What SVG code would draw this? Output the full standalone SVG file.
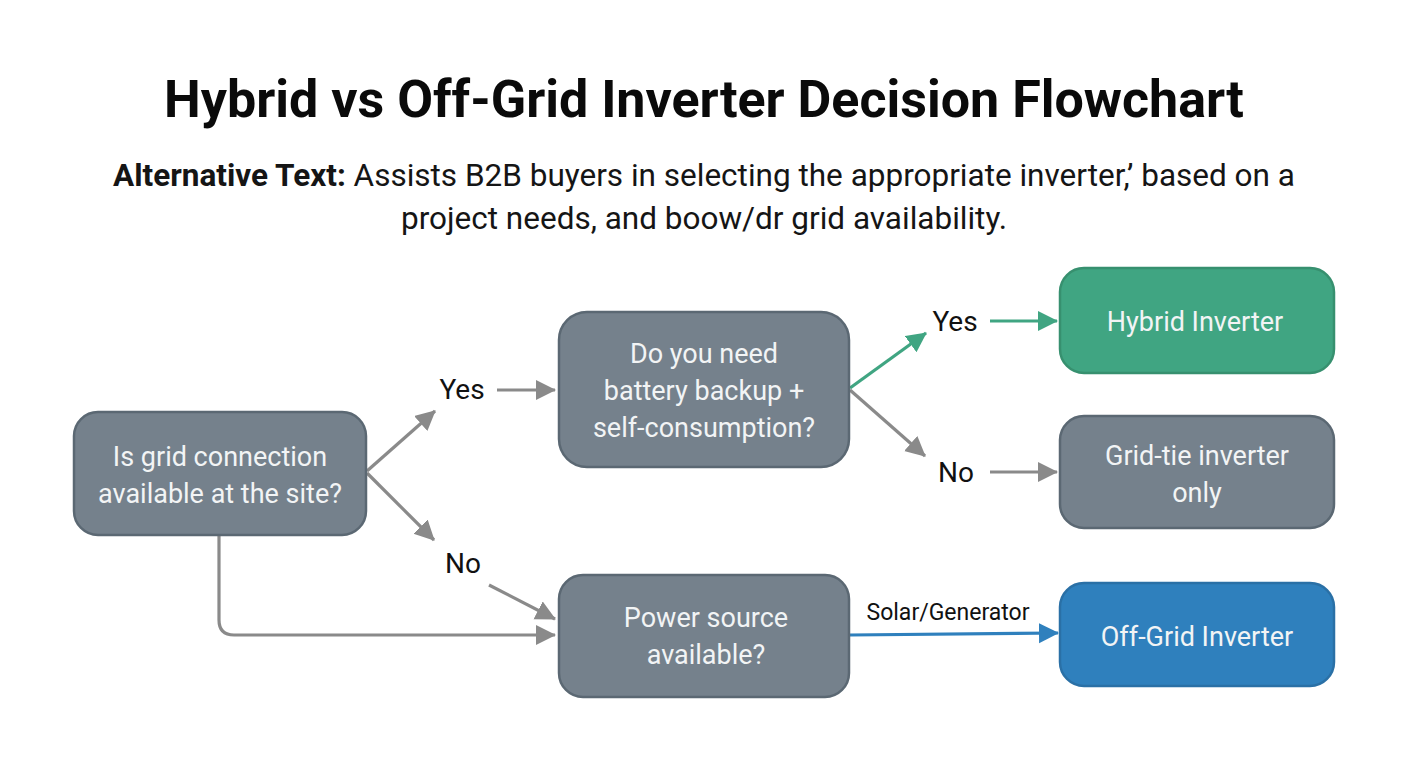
<svg xmlns="http://www.w3.org/2000/svg" width="1408" height="768" viewBox="0 0 1408 768">
<style>
text{font-family:Roboto,"Liberation Sans",sans-serif;text-anchor:middle}
.t{font-size:52px;font-weight:700;fill:#0a0a0a}
.s{font-size:31.5px;fill:#151515}
.s tspan.b{font-weight:700}
.n{fill:#75818c;stroke:#5b6873;stroke-width:2.5}
.g{fill:#40a582;stroke:#37906f;stroke-width:2.5}
.u{fill:#2f80bd;stroke:#2a70a6;stroke-width:2.5}
.w{font-size:27px;fill:#f2f4f5}
.l{font-size:28px;fill:#111}
.c{fill:none;stroke:#8a8a8a;stroke-width:3.2}
</style>
<defs>
<marker id="ag" markerUnits="userSpaceOnUse" markerWidth="22" markerHeight="22" refX="19" refY="10" orient="auto"><path d="M0 0L20 10L0 20Z" fill="#8a8a8a"/></marker>
<marker id="agr" markerUnits="userSpaceOnUse" markerWidth="22" markerHeight="22" refX="19" refY="10" orient="auto"><path d="M0 0L20 10L0 20Z" fill="#40a582"/></marker>
<marker id="abl" markerUnits="userSpaceOnUse" markerWidth="22" markerHeight="22" refX="19" refY="10" orient="auto"><path d="M0 0L20 10L0 20Z" fill="#2f80bd"/></marker>
</defs>
<rect width="1408" height="768" fill="#fff"/>
<g id="title">
<text class="t" x="704" y="117">Hybrid vs Off-Grid Inverter Decision Flowchart</text>
<text class="s" x="704" y="186"><tspan class="b">Alternative Text:</tspan> Assists B2B buyers in selecting the appropriate inverter,’ based on a</text>
<text class="s" x="704" y="229">project needs, and boow/dr grid availability.</text>
</g>
<g id="connectors">
<path class="c" d="M367 471L435 411" marker-end="url(#ag)"/>
<path class="c" d="M367 473L434 540" marker-end="url(#ag)"/>
<path class="c" d="M219 535V620Q219 635 234 635H555" marker-end="url(#ag)"/>
<path class="c" d="M497 390H555" marker-end="url(#ag)"/>
<path class="c" d="M489 585L555 619" marker-end="url(#ag)"/>
<path class="c" style="stroke:#40a582" d="M850 388L926 333" marker-end="url(#agr)"/>
<path class="c" d="M850 390L925 456" marker-end="url(#ag)"/>
<path class="c" style="stroke:#40a582" d="M990 321H1057" marker-end="url(#agr)"/>
<path class="c" d="M990 472H1057" marker-end="url(#ag)"/>
<path class="c" style="stroke:#2f80bd" d="M850 635L1058 633" marker-end="url(#abl)"/>
</g>
<g id="labels">
<text class="l" x="462" y="399">Yes</text>
<text class="l" x="463" y="573">No</text>
<text class="l" x="955" y="331">Yes</text>
<text class="l" x="956" y="482">No</text>
<text x="948" y="620" style="font-size:23px;fill:#111">Solar/Generator</text>
</g>
<g id="n1"><rect class="n" x="74" y="412" width="292" height="123" rx="24"/><text class="w" x="220" y="466">Is grid connection</text><text class="w" x="220" y="503">available at the site?</text></g>
<g id="n2"><rect class="n" x="559" y="312" width="290" height="155" rx="28"/><text class="w" x="704" y="363">Do you need</text><text class="w" x="704" y="400">battery backup +</text><text class="w" x="704" y="437">self-consumption?</text></g>
<g id="n3"><rect class="n" x="559" y="575" width="290" height="122" rx="24"/><text class="w" x="706" y="627">Power source</text><text class="w" x="706" y="664">available?</text></g>
<g id="n4"><rect class="g" x="1060" y="268" width="274" height="105" rx="24"/><text class="w" x="1195" y="331">Hybrid Inverter</text></g>
<g id="n5"><rect class="n" x="1060" y="416" width="274" height="112" rx="24"/><text class="w" x="1197" y="465">Grid-tie inverter</text><text class="w" x="1197" y="502">only</text></g>
<g id="n6"><rect class="u" x="1060" y="583" width="274" height="103" rx="24"/><text class="w" x="1197" y="646">Off-Grid Inverter</text></g>
</svg>
